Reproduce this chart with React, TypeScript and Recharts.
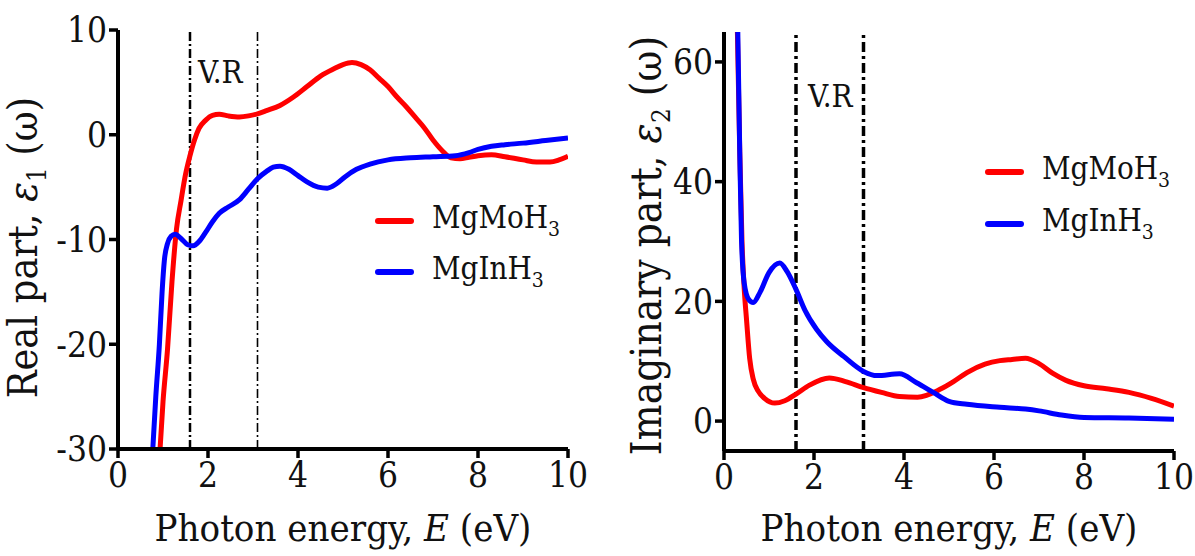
import React from 'react';
import { LineChart, Line, XAxis, YAxis, ReferenceLine, Legend } from 'recharts';

const FONT = '"DejaVu Serif Condensed", "DejaVu Serif", serif';

const seriesNames = ['MgMoH3', 'MgInH3'];
const seriesColors = ['#ff0000', '#0000ff'];
const energyTicks = [0, 2, 4, 6, 8, 10];
const realTicks = [-30, -20, -10, 0, 10];
const imagTicks = [0, 20, 40, 60];
const visibleRangeBounds = [1.6, 3.1];

const realMoE = [0.92, 1.0, 1.1, 1.2, 1.3, 1.4, 1.5, 1.6, 1.7, 1.8, 1.95, 2.1, 2.25, 2.45, 2.7, 2.9, 3.1, 3.3, 3.6, 3.9, 4.2, 4.5, 4.8, 5.0, 5.2, 5.4, 5.6, 5.8, 6.0, 6.2, 6.4, 6.6, 6.8, 7.0, 7.2, 7.4, 7.6, 7.8, 8.0, 8.3, 8.6, 9.0, 9.3, 9.6, 9.8, 10];
const realMoV = [-31, -25.5, -20.5, -14, -9, -6.3, -3.8, -2.0, -0.5, 0.6, 1.4, 1.85, 1.95, 1.8, 1.7, 1.8, 2.0, 2.3, 2.8, 3.6, 4.6, 5.6, 6.3, 6.7, 6.9, 6.7, 6.2, 5.4, 4.6, 3.6, 2.7, 1.7, 0.7, -0.5, -1.5, -2.2, -2.3, -2.15, -2.0, -1.9, -2.1, -2.4, -2.6, -2.6, -2.4, -2.05];

const realInE = [0.76, 0.84, 0.92, 0.98, 1.03, 1.1, 1.18, 1.27, 1.4, 1.55, 1.67, 1.8, 1.95, 2.1, 2.25, 2.45, 2.7, 2.9, 3.1, 3.3, 3.45, 3.6, 3.8, 4.0, 4.2, 4.45, 4.65, 4.85, 5.05, 5.3, 5.6, 6.0, 6.5, 7.0, 7.5, 7.8, 8.0, 8.3, 8.6, 9.0, 9.5, 10];
const realInV = [-31, -25, -20, -15, -12, -10.4, -9.7, -9.5, -9.9, -10.5, -10.6, -10.2, -9.3, -8.3, -7.5, -6.9, -6.2, -5.2, -4.2, -3.5, -3.1, -3.0, -3.3, -3.9, -4.5, -5.0, -5.1, -4.7, -4.0, -3.3, -2.8, -2.4, -2.2, -2.1, -2.0, -1.7, -1.4, -1.1, -0.95, -0.8, -0.55, -0.3];

const imagMoE = [0.29, 0.35, 0.4, 0.45, 0.5, 0.57, 0.65, 0.76, 0.9, 1.13, 1.35, 1.6, 1.9, 2.34, 2.7, 3.1, 3.5, 3.9, 4.3, 4.8, 5.1, 5.4, 5.8, 6.13, 6.4, 6.7, 7.0, 7.3, 7.6, 8.0, 8.5, 9.0, 9.5, 10];
const imagMoV = [68, 45, 30, 22, 17, 10.5, 7, 5, 3.8, 3, 3.4, 4.5, 6, 7.2, 6.6, 5.6, 4.8, 4.1, 4.0, 5.3, 6.6, 8.1, 9.5, 10.1, 10.3, 10.5, 9.6, 8.0, 6.8, 5.9, 5.4, 4.8, 3.8, 2.5];

const imagInE = [0.3, 0.35, 0.39, 0.45, 0.55, 0.65, 0.8, 1.0, 1.24, 1.4, 1.6, 1.8, 2.06, 2.28, 2.66, 3.1, 3.4, 3.9, 4.28, 4.65, 5.0, 5.4, 6.13, 6.7, 7.0, 7.5, 8.0, 9.0, 10];
const imagInV = [68, 45, 30, 23, 20.3, 19.8, 21.5, 24.8, 26.4, 25, 22, 18.5, 15.3, 13.3, 10.8, 8.3, 7.6, 7.9, 6.4, 4.8, 3.3, 2.8, 2.3, 2.0, 1.7, 1.0, 0.6, 0.5, 0.3];

const zip = (xs: number[], ys: number[]) => xs.map((E, i) => ({ E, v: ys[i] }));

const realSeries = [zip(realMoE, realMoV), zip(realInE, realInV)];
const imagSeries = [zip(imagMoE, imagMoV), zip(imagInE, imagInV)];

const YTitle = (props: any) => {
  const { viewBox, text, sub, cx, cyOffset, fontSize } = props;
  const cy = viewBox.y + viewBox.height / 2 + (cyOffset || 0);
  return (
    <text x={cx} y={cy} transform={`rotate(-90, ${cx}, ${cy})`} textAnchor="middle" fontFamily={FONT} fontSize={fontSize} fill="#111">
      {text}
      <tspan fontStyle="italic">ε</tspan>
      <tspan dy={fontSize * 0.22} fontSize={fontSize * 0.62}>{sub}</tspan>
      <tspan dy={-fontSize * 0.22}> (ω)</tspan>
    </text>
  );
};

const XTitle = (props: any) => {
  const { viewBox, baseline, fontSize } = props;
  const cx = viewBox.x + viewBox.width / 2;
  return (
    <text x={cx} y={baseline} textAnchor="middle" fontFamily={FONT} fontSize={fontSize} fill="#111">
      Photon energy, <tspan fontStyle="italic">E</tspan> (eV)
    </text>
  );
};

const Note = (props: any) => {
  const { viewBox, text, dx, dy, size } = props;
  return (
    <text x={viewBox.x + dx} y={viewBox.y + dy} fontFamily={FONT} fontSize={size} fill="#111">
      {text}
    </text>
  );
};

const LegendBox = (props: any) => {
  const { payload, rowHeight } = props;
  const items = [...(payload || [])].sort((a: any, b: any) => seriesNames.indexOf(a.value) - seriesNames.indexOf(b.value));
  return (
    <div style={{ fontFamily: FONT, fontSize: 31, color: '#111' }}>
      {items.map((p: any) => (
        <div key={p.value} style={{ display: 'flex', alignItems: 'center', height: rowHeight }}>
          <div style={{ width: 39, height: 6, borderRadius: 3, background: p.color, marginRight: 18 }} />
          <span style={{ lineHeight: 1 }}>
            {String(p.value).slice(0, -1)}
            <sub style={{ fontSize: 21, verticalAlign: -8 }}>{String(p.value).slice(-1)}</sub>
          </span>
        </div>
      ))}
    </div>
  );
};

const axisLine = { stroke: '#000', strokeWidth: 4 };
const tickLine = { stroke: '#000', strokeWidth: 3.5 };
const tickFont = { fontFamily: FONT, fontSize: 35, fill: '#111' };

export default function App() {
  return (
    <div style={{ position: 'absolute', left: 0, top: 0, width: 1195, height: 556, background: '#fff' }}>
      <div style={{ position: 'absolute', left: 0, top: 0 }}>
        <LineChart width={600} height={556} margin={{ top: 30, right: 32, bottom: 0, left: 0 }}>
          <XAxis dataKey="E" type="number" domain={[0, 10]} ticks={energyTicks} allowDataOverflow
            axisLine={axisLine} tickLine={tickLine} tickSize={9} tickMargin={4} tick={tickFont} height={107}
            label={<XTitle baseline={541} fontSize={38} />} />
          <XAxis xAxisId="top" orientation="top" dataKey="E" type="number" domain={[0, 10]} tick={false} tickLine={false}
            axisLine={axisLine} height={0} label={<Note text="(a)" dx={4} dy={38} size={35} />} />
          <YAxis type="number" domain={[-30, 10]} ticks={realTicks} allowDataOverflow axisLine={axisLine} tickLine={tickLine}
            tickSize={9} tickMargin={2} tick={tickFont} width={118}
            label={<YTitle text="Real part, " sub="1" cx={37} cyOffset={8} fontSize={41} />} />
          <YAxis yAxisId="right" orientation="right" domain={[-30, 10]} tick={false} tickLine={false} axisLine={axisLine} width={0} />
          <ReferenceLine x={visibleRangeBounds[0]} stroke="#000" strokeWidth={2.5} strokeDasharray="9 3 2 3"
            label={<Note text="V.R" dx={8} dy={53} size={31} />} />
          <ReferenceLine x={visibleRangeBounds[1]} stroke="#000" strokeWidth={1.6} strokeDasharray="9 3 2 3" />
          {realSeries.map((d, i) => (
            <Line key={seriesNames[i]} data={d} dataKey="v" name={seriesNames[i]} type="monotone" stroke={seriesColors[i]}
              strokeWidth={5} dot={false} activeDot={false} isAnimationActive={false} />
          ))}
          <Legend layout="vertical" align="center" verticalAlign="middle" wrapperStyle={{ left: 375, top: 195, width: 200 }}
            content={<LegendBox rowHeight={51} />} />
        </LineChart>
      </div>
      <div style={{ position: 'absolute', left: 595, top: 0 }}>
        <LineChart width={600} height={556} margin={{ top: 32, right: 21, bottom: 0, left: 0 }}>
          <XAxis dataKey="E" type="number" domain={[0, 10]} ticks={energyTicks} allowDataOverflow
            axisLine={axisLine} tickLine={tickLine} tickSize={9} tickMargin={4} tick={tickFont} height={105}
            label={<XTitle baseline={541} fontSize={38} />} />
          <XAxis xAxisId="top" orientation="top" dataKey="E" type="number" domain={[0, 10]} tick={false} tickLine={false}
            axisLine={axisLine} height={0} label={<Note text="(b)" dx={11} dy={38} size={35} />} />
          <YAxis type="number" domain={[-5, 65]} ticks={imagTicks} allowDataOverflow axisLine={axisLine} tickLine={tickLine}
            tickSize={9} tickMargin={2} tick={tickFont} width={129}
            label={<YTitle text="Imaginary part, " sub="2" cx={66} cyOffset={4} fontSize={42} />} />
          <YAxis yAxisId="right" orientation="right" domain={[-5, 65]} tick={false} tickLine={false} axisLine={axisLine} width={0} />
          <ReferenceLine x={visibleRangeBounds[0]} stroke="#000" strokeWidth={3.5} strokeDasharray="10 4 3 4"
            label={<Note text="V.R" dx={12} dy={75} size={31} />} />
          <ReferenceLine x={visibleRangeBounds[1]} stroke="#000" strokeWidth={3.5} strokeDasharray="10 4 3 4" />
          {imagSeries.map((d, i) => (
            <Line key={seriesNames[i]} data={d} dataKey="v" name={seriesNames[i]} type="monotone" stroke={seriesColors[i]}
              strokeWidth={5} dot={false} activeDot={false} isAnimationActive={false} />
          ))}
          <Legend layout="vertical" align="center" verticalAlign="middle" wrapperStyle={{ left: 390, top: 146, width: 200 }}
            content={<LegendBox rowHeight={52} />} />
        </LineChart>
      </div>
    </div>
  );
}
